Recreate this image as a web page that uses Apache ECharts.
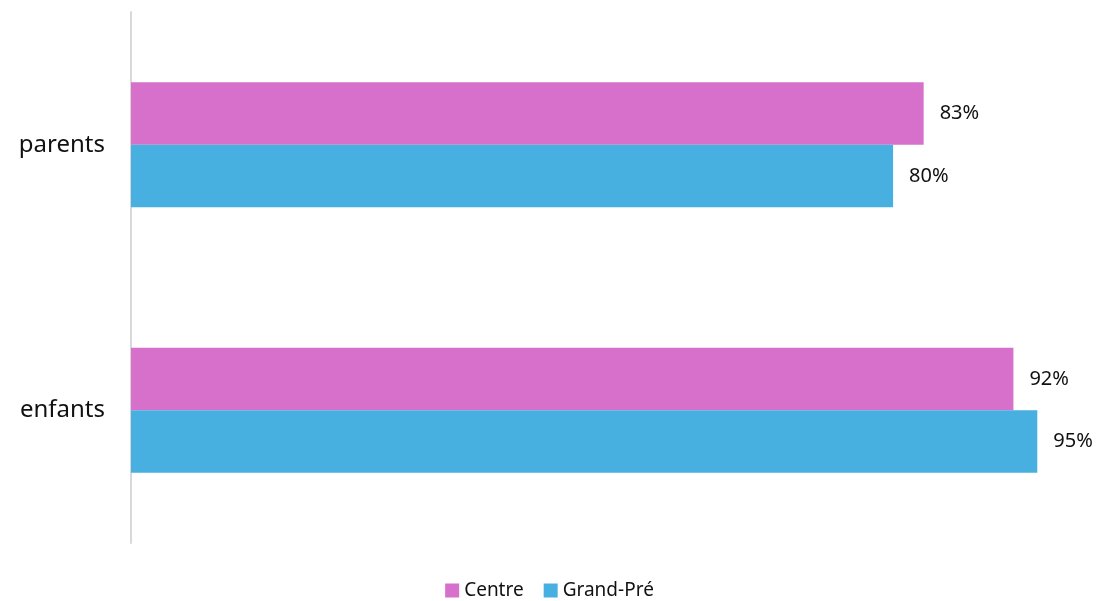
<!DOCTYPE html>
<html><head><meta charset="utf-8">
<script src="https://cdn.jsdelivr.net/npm/echarts@6/dist/echarts.min.js"></script>
<style>html,body{margin:0;padding:0;background:#fff}#c{width:1099px;height:601px}</style>
</head><body><div id="c"></div>
<script>
const categories = ['parents', 'enfants'];
const seriesNames = ['Centre', 'Grand-Pré'];
const centreValues = [83.0, 92.4];
const grandPreValues = [79.8, 94.9];
const colors = ['#D670CB', '#47B0E0'];
const font = 'Noto Sans';
const chart = echarts.init(document.getElementById('c'));
const mk = (name, data, color) => ({
  name, type: 'bar', data, barGap: '0%', barCategoryGap: '53%',
  itemStyle: { color },
  label: { show: true, position: 'right', distance: 16,
    formatter: p => Math.round(p.value) + '%', color: '#111', fontSize: 20, fontFamily: font }
});
chart.setOption({
  animation: false,
  grid: { left: 131, right: 13, top: 12, bottom: 58, containLabel: false },
  legend: { bottom: -4, left: 'center', itemWidth: 14, itemHeight: 14, itemGap: 20,
    icon: 'rect', textStyle: { fontSize: 19, fontFamily: font, color: '#111' }, data: seriesNames },
  xAxis: { type: 'value', min: 0, max: 100, show: false },
  yAxis: { type: 'category', data: categories, inverse: true,
    axisLine: { show: true, lineStyle: { color: '#d9d9d9', width: 2 } },
    axisTick: { show: false },
    axisLabel: { fontSize: 24, fontFamily: font, color: '#111', margin: 26 } },
  series: [mk(seriesNames[0], centreValues, colors[0]), mk(seriesNames[1], grandPreValues, colors[1])]
});
</script></body></html>
